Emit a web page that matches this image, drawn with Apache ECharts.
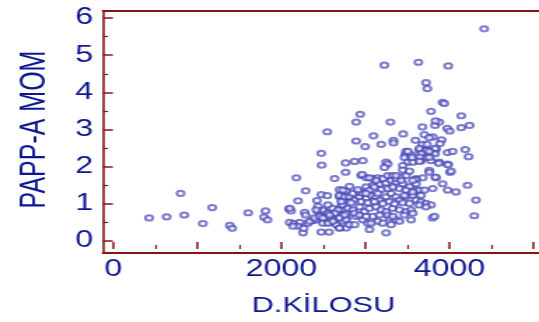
<!DOCTYPE html>
<html>
<head>
<meta charset="utf-8">
<script src="https://cdn.jsdelivr.net/npm/echarts@6/dist/echarts.min.js"></script>
<style>
  html, body { margin: 0; padding: 0; background: #fff; overflow: hidden; width: 539px; height: 322px; }
  /* the original picture is stretched sideways, so draw narrow and widen */
  #chart { width: 385px; height: 322px; transform: scaleX(1.4); transform-origin: 0 0; }
</style>
</head>
<body>
<div id="chart"></div>
<script>
// birth weight (g)
const weight = [
  425, 634, 800, 844, 1065, 1176, 1386, 1414, 1604, 1810, 1794, 1834,
  2091, 2114, 2099, 2150, 2218, 2198, 2257, 2265, 2316, 2375, 2416, 2435, 2475, 2514,
  2178, 2289, 2198, 2423, 2475, 2546, 2277, 2289, 2099, 2138, 2336, 2395, 2455, 2494, 2435,
  2475, 2479, 2546,
  2534, 2494, 2566, 2594, 2554, 2653, 2633, 2653, 2693, 2772, 2475, 2566, 2712, 2732, 2772,
  2693, 2732, 2772, 2772, 2732, 2554, 2613, 2673, 2732, 2791, 2851, 2930, 2989, 2554, 2613,
  2692, 2771, 2811, 2890, 2969, 2692, 2692, 2752, 2811, 2871, 2930, 2693, 2772, 2851, 2930,
  2970, 2633, 2950, 3010, 2764, 2764, 2871, 2970, 2938, 2890, 2890, 2997, 2962,
  3010, 3088, 3167, 3247, 3306, 3366, 3445, 3088, 3147, 3207, 3266, 3325, 3366, 3425, 3484,
  3009, 3069, 3128, 3167, 3247, 3306, 3365, 3405, 3484, 3049, 3128, 3187, 3247, 3326, 3405,
  3484, 3029, 3088, 3148, 3207, 3286, 3365, 3405, 3049, 3247, 3226, 3298, 3096, 3449, 3188,
  3334, 3334, 3476, 3484, 3465, 3504, 3445, 3445, 3247, 3266, 3227, 3049, 3425,
  3524, 3603, 3643, 3544, 3563, 3524, 3563, 3603, 3662, 3722, 3781, 3544, 3643, 3722, 3544,
  3801, 3821, 3603, 3682, 3840, 3801, 3919, 3979, 3643, 3722, 3801, 3840, 3979, 3663, 3722,
  3781, 3880, 3979, 3761, 4007, 3631, 3986, 3722, 3737, 3919, 3939, 3781, 3678, 3829, 3880,
  3834, 3975, 4003, 3595, 3702, 3803, 3761, 3907, 3888, 3678, 3734, 3643, 3722, 3829, 3829,
  3508, 3666, 3761, 3555, 3650, 3761, 3643, 3872, 3983, 4019, 3603, 3761, 3833,
  4414, 4141, 4141, 4240, 4038, 4189, 4228, 4078, 4216, 4316, 4296,
  2732, 2811, 2910, 3049, 3108, 3187, 3266, 3326, 3405, 3484, 3563, 2712, 2831, 2950, 3029,
  3108, 3207, 3286, 3346, 3445, 3524, 2633, 2752, 2870, 2930, 3009, 3168, 3266, 3326, 3464,
  3563, 2494, 2574, 3068, 3306, 2871, 2415, 3009, 3148, 3464, 3662, 3702, 3603, 3365, 3563, 3128
];
// PAPP-A MoM
const pappa = [
  0.62, 0.65, 1.28, 0.70, 0.47, 0.90, 0.42, 0.34, 0.76, 0.81, 0.64, 0.57,
  0.86, 0.81, 0.50, 0.47, 0.50, 0.40, 0.22, 0.34, 0.48, 0.55, 0.57, 0.79, 0.75, 0.79,
  1.70, 1.35, 1.08, 1.09, 1.25, 1.22, 0.77, 0.70, 0.88, 0.40, 0.53, 0.62, 0.66, 0.84, 0.93,
  2.36, 2.04, 2.94,
  0.62, 0.48, 0.50, 0.60, 0.75, 0.75, 0.57, 0.44, 0.35, 0.35, 0.24, 0.24, 0.93, 1.06, 1.19,
  1.19, 0.84, 0.75, 0.62, 0.53, 0.97, 0.88, 0.84, 0.97, 0.88, 0.84, 0.92, 0.79, 0.48, 0.53,
  0.62, 0.57, 0.44, 0.66, 0.57, 0.35, 1.23, 1.19, 1.19, 1.10, 1.19, 1.38, 1.35, 1.28, 1.32,
  1.28, 1.68, 1.76, 1.70, 2.10, 1.85, 2.14, 2.16, 3.41, 3.20, 2.69, 2.54, 1.79,
  1.46, 1.50, 1.53, 1.56, 1.63, 1.59, 1.54, 1.68, 1.70, 1.68, 1.76, 1.76, 1.68, 1.72, 1.76,
  1.15, 1.23, 1.19, 1.10, 1.19, 1.28, 1.19, 1.10, 1.19, 0.88, 0.92, 0.84, 0.79, 0.88, 0.84,
  0.79, 0.48, 0.66, 0.53, 0.48, 0.62, 0.57, 0.53, 0.31, 0.22, 4.73, 3.20, 2.83, 2.88, 2.60,
  2.71, 2.64, 2.32, 2.41, 2.25, 2.12, 2.03, 1.91, 2.12, 2.07, 1.98, 1.70, 1.63,
  1.46, 1.37, 1.37, 2.32, 2.12, 1.88, 1.23, 1.10, 1.06, 1.01, 0.97, 0.84, 0.97, 0.92, 0.57,
  0.62, 0.66, 1.68, 1.70, 1.70, 1.41, 1.54, 1.37, 2.44, 2.47, 2.38, 2.47, 2.38, 2.16, 2.25,
  2.16, 2.12, 2.07, 1.90, 1.85, 4.81, 4.71, 4.26, 4.10, 3.73, 3.70, 3.49, 3.07, 3.11, 3.20,
  3.23, 3.03, 2.96, 2.71, 2.86, 2.80, 2.78, 2.72, 2.62, 2.60, 2.60, 2.49, 2.43, 2.49, 2.35,
  2.41, 2.35, 2.41, 2.25, 2.26, 2.25, 2.14, 2.09, 2.05, 1.88, 1.65, 1.85, 1.72,
  5.71, 3.37, 3.05, 3.11, 2.41, 2.46, 2.27, 1.32, 1.50, 1.10, 0.68,
  1.37, 1.47, 1.38, 1.37, 1.45, 1.38, 1.41, 1.45, 1.41, 1.37, 1.32, 1.06, 1.03, 1.06, 1.03,
  1.06, 1.01, 1.06, 1.00, 1.03, 1.01, 0.75, 0.70, 0.75, 0.70, 0.66, 0.70, 0.70, 0.66, 0.70,
  0.75, 0.62, 0.70, 0.48, 0.44, 0.44, 0.84, 1.28, 1.28, 1.23, 1.23, 1.37, 1.54, 1.76, 1.63, 1.63
];
const xTickLabels = [0, 2000, 4000];
const yTickLabels = [0, 1, 2, 3, 4, 5, 6];

const axisRed = '#8b1212';
const textBlue = '#0d168f';
const font = 'Liberation Sans, Arial, sans-serif';

const chart = echarts.init(document.getElementById('chart'), null, { renderer: 'canvas' });

const points = weight.map((w, i) => [w, pappa[i]]);

// frame line axes (left, bottom, top) sit a little outside the plotting area
const frameAxis = (position, width) => ({
  gridIndex: 1, type: 'value', position, min: 0, max: 1,
  axisLine: { show: true, onZero: false, lineStyle: { color: axisRed, width } },
  axisTick: { show: false }, axisLabel: { show: false }, splitLine: { show: false }
});

const option = {
  animation: false,
  backgroundColor: '#fff',
  grid: [
    { left: 81, top: 18, width: 300, height: 227 },
    { left: 73.6, top: 11, right: 0, bottom: 69 }
  ],
  xAxis: [
    {
      gridIndex: 0,
      type: 'value',
      min: 0,
      max: 5000,
      interval: 1000,
      offset: 8,
      name: 'D.KİLOSU',
      nameLocation: 'middle',
      nameGap: 46,
      nameTextStyle: { color: textBlue, fontSize: 22, fontFamily: font },
      axisLine: { show: false, onZero: false },
      axisTick: { show: true, inside: true, length: 7, lineStyle: { color: axisRed, width: 1.5 } },
      minorTick: { show: true, splitNumber: 2, length: 4, lineStyle: { color: axisRed, width: 1.2 } },
      splitLine: { show: false },
      axisLabel: {
        color: textBlue,
        fontSize: 23,
        fontFamily: font,
        margin: 9,
        formatter: v => (xTickLabels.includes(v) ? String(v) : '')
      }
    },
    frameAxis('bottom', 2),
    frameAxis('top', 2)
  ],
  yAxis: [
    {
      gridIndex: 0,
      type: 'value',
      min: 0,
      max: 6,
      interval: 1,
      offset: 7.4,
      name: 'PAPP-A MOM',
      nameLocation: 'middle',
      nameGap: 36,
      nameRotate: 90,
      nameTextStyle: { color: textBlue, fontSize: 25, fontFamily: font },
      axisLine: { show: false, onZero: false },
      axisTick: { show: true, inside: true, length: 7, lineStyle: { color: axisRed, width: 1.5 } },
      minorTick: { show: true, splitNumber: 2, length: 3.6, lineStyle: { color: axisRed, width: 1.2 } },
      splitLine: { show: false },
      axisLabel: {
        color: textBlue,
        fontSize: 23,
        fontFamily: font,
        margin: 7,
        formatter: v => (yTickLabels.includes(v) ? String(v) : '')
      }
    },
    frameAxis('left', 1.6)
  ],
  series: [
    {
      type: 'scatter',
      xAxisIndex: 0,
      yAxisIndex: 0,
      data: points,
      symbol: 'emptyCircle',
      symbolSize: 5.2,
      itemStyle: { color: '#4646b8', borderColor: '#4646b8', borderWidth: 0.8, opacity: 0.7 },
      silent: true
    }
  ]
};

chart.setOption(option);
</script>
</body>
</html>
